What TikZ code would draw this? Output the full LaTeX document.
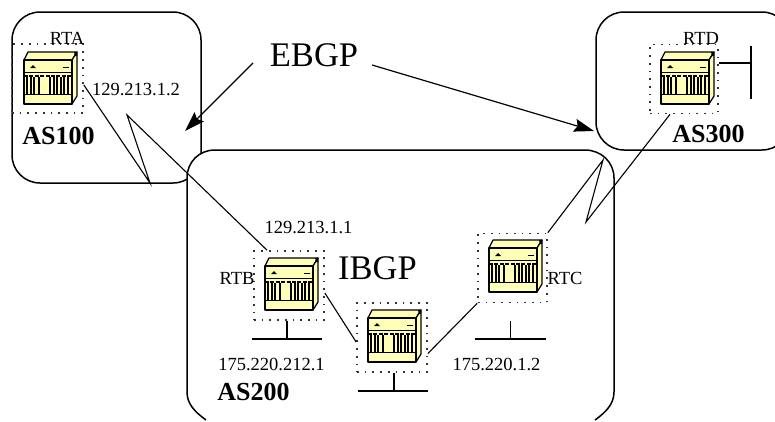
\documentclass[tikz,border=0pt]{standalone}
\usepackage{fontspec}
\setmainfont{Liberation Serif}
\usetikzlibrary{arrows.meta}
\definecolor{routery}{HTML}{FFFFB8}
\tikzset{
  wire/.style={line width=1.1pt,black},
  cloudline/.style={line width=1.5pt,black},
  dotbox/.style={draw=black!80,line width=1.7pt,dash pattern=on 1.7pt off 6pt,inner sep=0pt,minimum height=69pt},
  small/.style={inner sep=0pt,font=\fontsize{18.5pt}{20pt}\selectfont},
  big/.style={inner sep=0pt,font=\fontsize{34.5pt}{36pt}\selectfont},
  asname/.style={inner sep=0pt,font=\fontsize{26pt}{28pt}\selectfont\bfseries},
  rb/.style={draw=black,line width=1.2pt,fill=routery,line join=round},
  arrowline/.style={line width=1.2pt,-{Stealth[length=20pt,width=13pt,inset=3pt]}}
}
% #1 = node name, #2,#3 = box centre, #4 = box width, #5,#6 = router origin
\newcommand{\routerunit}[6]{%
  \node[dotbox,minimum width=#4pt] (#1) at (#2,#3) {};
  \begin{scope}[shift={(#5,#6)}]
    \draw[rb] (0,8) -- (4,0) -- (53,0) -- (48,8) -- cycle;
    \draw[rb] (48,8) -- (53,0) -- (53,44) -- (48,52) -- cycle;
    \draw[rb] (0,8) rectangle (48,52);
    \fill[black] (50,0) -- (53,0) -- (53,4) -- (51,4) -- cycle;
    \fill[black] (6,16) -- (9,13) -- (12,16) -- cycle;
    \draw[line width=.9pt] (39,15) -- (45,15);
    \draw[line width=.8pt] (0,20) -- (48,20);
    \draw[line width=2.4pt,dash pattern=on 4pt off 1.4pt] (0,24) -- (48,24);
    \foreach \bx in {3,7,10,15,26,30,33,37,40,44}
      \draw[line width=1.1pt] (\bx,25) -- (\bx,42);
    \draw[line width=1.8pt] (0,42.5) -- (48,42.5);
  \end{scope}
}
\begin{document}
\begin{tikzpicture}[x=1pt,y=-1pt]
\useasboundingbox (0,0) rectangle (775,421);
\clip (0,0) rectangle (775,421);
\fill[white] (0,0) rectangle (775,421);

% autonomous systems
\node[cloudline,draw,rounded corners=28pt,minimum width=189pt,minimum height=171pt,inner sep=0pt] (as100) at (106.5,97.5) {};
\node[cloudline,draw,rounded corners=28pt,minimum width=194pt,minimum height=138pt,inner sep=0pt] (as300) at (693,81) {};
\draw[cloudline,fill=white] (206,420) .. controls (195,412) and (187,404) .. (187,392)
  -- (187,178) .. controls (187,162) and (199,150) .. (215,150)
  -- (585,150) .. controls (601,150) and (614,162) .. (614,178)
  -- (614,392) .. controls (614,404) and (606,412) .. (595,420);

% routers
\routerunit{rta}{47.5}{78.5}{71}{24}{52}
\routerunit{rtb}{289}{285.5}{70}{265}{258}
\routerunit{rtm}{392}{337.5}{70}{368}{310}
\routerunit{rtc}{512.5}{268}{69}{489}{240}
\routerunit{rtd}{684}{79}{68}{661}{52}

% labels
\node[big] (ebgp) at (314,55) {EBGP};
\node[big] (ibgp) at (377.5,268) {IBGP};
\node[asname] (l100) at (58.5,136) {AS100};
\node[asname] (l200) at (253.5,392) {AS200};
\node[asname] (l300) at (708.5,134) {AS300};
\node[small] (na) at (67,38) {RTA};
\node[small] (nb) at (237,278) {RTB};
\node[small] (nc) at (565,278) {RTC};
\node[small] (nd) at (701,38) {RTD};
\node[small] (ip1) at (136,89.5) {129.213.1.2};
\node[small] (ip2) at (308.5,227.5) {129.213.1.1};
\node[small] (ip3) at (271.5,364) {175.220.212.1};
\node[small] (ip4) at (496.5,364) {175.220.1.2};

% bend and free-end points
\coordinate (k1) at (150,183);
\coordinate (k2) at (127,115);
\coordinate (k3) at (603,160);
\coordinate (k4) at (586,222);
\coordinate (e1) at (253,63);
\coordinate (e2) at (185,131);
\coordinate (e3) at (372,65);
\coordinate (e4) at (594,131);
\coordinate (bbl) at (252,339); \coordinate (bbr) at (322,339); \coordinate (bbm) at (287,339);
\coordinate (mbl) at (358,391); \coordinate (mbr) at (428,391); \coordinate (mbm) at (394,391);
\coordinate (cbl) at (475,339); \coordinate (cbr) at (546,339); \coordinate (cbm) at (510.5,339); \coordinate (cbt) at (510.5,321);
\coordinate (dbt) at (751,46); \coordinate (dbb) at (751,99); \coordinate (dbm) at (751,63);

% serial links
\draw[wire] ([yshift=-6.5pt]rta.east) -- (k1) -- (k2) -- ([xshift=-22pt]rtb.north);
\draw[wire] (rtc.north east) -- (k3) -- (k4) -- ([xshift=-14pt]rtd.south);
\draw[wire] ([yshift=-7.5pt]rtb.east) -- ([yshift=-4.5pt]rtm.west);
\draw[wire] ([yshift=-16pt]rtm.east) -- (rtc.south west);

% LAN stubs
\draw[wire] ([xshift=-2pt]rtb.south) -- (bbm);
\draw[wire] (bbl) -- (bbr);
\draw[wire] ([xshift=2pt]rtm.south) -- (mbm);
\draw[wire] (mbl) -- (mbr);
\draw[wire] (cbt) -- (cbm);
\draw[wire] (cbl) -- (cbr);
\draw[wire] (rtd.east |- dbm) -- (dbm);
\draw[wire] (dbt) -- (dbb);

% EBGP arrows
\draw[arrowline] (e1) -- (e2);
\draw[arrowline] (e3) -- (e4);
\end{tikzpicture}
\end{document}
